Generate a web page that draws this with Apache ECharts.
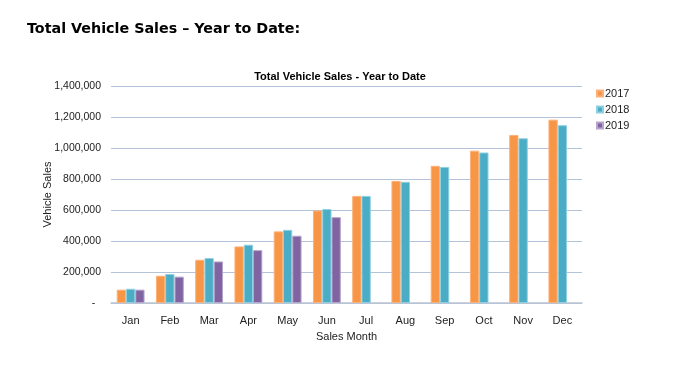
<!DOCTYPE html>
<html>
<head>
<meta charset="utf-8">
<script src="https://cdn.jsdelivr.net/npm/echarts@6/dist/echarts.min.js"></script>
<style>
html,body{margin:0;padding:0;background:#fff;}
#main{width:680px;height:374px;}
</style>
</head>
<body>
<div id="main"></div>
<script>
const months = ['Jan','Feb','Mar','Apr','May','Jun','Jul','Aug','Sep','Oct','Nov','Dec'];
const sales2017 = [86000,176000,279000,365000,462000,597000,691000,788000,885000,983000,1084000,1183000];
const sales2018 = [92000,187000,290000,376000,472000,606000,691000,782000,878000,971000,1063000,1147000];
const sales2019 = [86000,170000,268000,341000,434000,554000,null,null,null,null,null,null];
const yTicks = [0,200000,400000,600000,800000,1000000,1200000,1400000];

const FONT = "'Liberation Sans',Arial,sans-serif";
const chart = echarts.init(document.getElementById('main'), null, {renderer:'canvas'});

function fmt(v){
  if (v === 0) return '-  ';
  return v.toLocaleString('en-US');
}

chart.setOption({
  animation:false,
  backgroundColor:'#ffffff',
  title:[
    {text:'Total Vehicle Sales \u2013 Year to Date:', left:22, top:17,
     textStyle:{fontFamily:"'DejaVu Sans',Verdana,sans-serif", fontWeight:'bold', fontSize:14.3, color:'#000'}},
    {text:'Total Vehicle Sales - Year to Date', left:335, top:66, textAlign:'center',
     textStyle:{fontFamily:FONT, fontWeight:'bold', fontSize:11, color:'#000'}}
  ],
  legend:{
    orient:'vertical', left:591, top:83,
    itemWidth:6, itemHeight:6, itemGap:5, icon:'rect',
    textStyle:{fontFamily:FONT, fontSize:11, color:'#222', lineHeight:11, padding:[0,0,0,-3]},
    data:['2017','2018','2019']
  },
  grid:{left:111, right:98, top:86, bottom:71},
  xAxis:{
    type:'category', data:months,
    name:'Sales Month', nameLocation:'middle', nameGap:28,
    nameTextStyle:{fontFamily:FONT, fontSize:11, color:'#222'},
    axisLine:{lineStyle:{color:'#b9c3d3', width:1.5}},
    axisTick:{show:false},
    axisLabel:{fontFamily:FONT, fontSize:11, color:'#222', margin:12}
  },
  yAxis:{
    type:'value', min:0, max:1400000, interval:200000,
    name:'Vehicle Sales', nameLocation:'middle', nameGap:58, nameRotate:90,
    nameMoveOverlap:false,
    nameTextStyle:{fontFamily:FONT, fontSize:11, color:'#222'},
    axisLine:{show:false}, axisTick:{show:false},
    axisLabel:{fontFamily:FONT, fontSize:10.5, color:'#222', margin:10, formatter:fmt},
    splitLine:{lineStyle:{color:'#b4c3da', width:1.2}}
  },
  series:[
    {name:'2017', type:'bar', data:sales2017, barGap:'0%', barCategoryGap:'29%',
     itemStyle:{color:'#F79646', borderColor:'#fbb27a', borderWidth:1}},
    {name:'2018', type:'bar', data:sales2018,
     itemStyle:{color:'#4BACC6', borderColor:'#8fd0e0', borderWidth:1}},
    {name:'2019', type:'bar', data:sales2019,
     itemStyle:{color:'#8064A2', borderColor:'#b7a5cc', borderWidth:1}}
  ]
});
</script>
</body>
</html>
